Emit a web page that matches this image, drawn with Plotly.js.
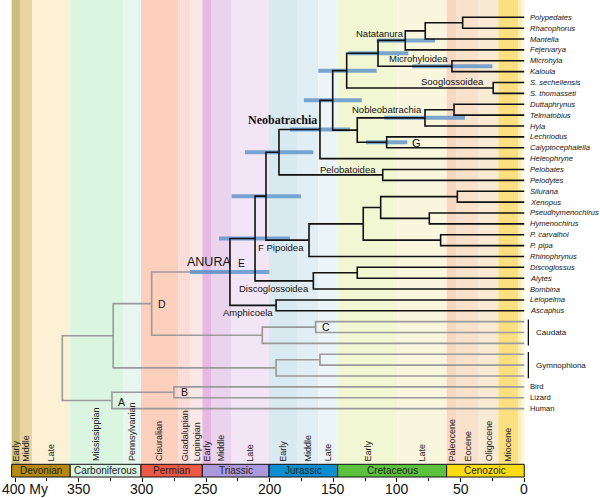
<!DOCTYPE html>
<html><head><meta charset="utf-8">
<script src="https://cdn.plot.ly/plotly-3.0.1.min.js"></script>
<style>html,body{margin:0;padding:0;background:#fff}#chart{width:600px;height:498px}</style>
</head><body><div id="chart"></div>
<script>
// ---------- DATA ----------
const leafNames = ['Polypedates','Rhacophorus','Mantella','Fejervarya','Microhyla','Kaloula',
  'S. sechellensis','S. thomasseti','Duttaphrynus','Telmatobius','Hyla','Lechriodus',
  'Calyptocephalella','Heleophryne','Pelobates','Pelodytes','Silurana','Xenopus',
  'Pseudhymenochirus','Hymenochirus','P. carvalhoi','P. pipa','Rhinophrynus','Discoglossus',
  'Alytes','Bombina','Leiopelma','Ascaphus',
  'Caudata 1','Caudata 2','Caudata 3','Gymnophiona 1','Gymnophiona 2','Gymnophiona 3',
  'Bird','Lizard','Human'];
const uprightLeaves = ['Bird','Lizard','Human'];
const groupNames = ['Caudata','Gymnophiona'];
const groupLeaves = [['Caudata 1','Caudata 2','Caudata 3'],['Gymnophiona 1','Gymnophiona 2','Gymnophiona 3']];

// internal nodes (children before parents), ages in My
const nodeNames = ['PR','PRM','Nat','Mic','Ranoidea','Soog','RanSoog','DT','DTH','G','Noble','N150','Neo',
  'Pelob','NeoPel','SX','PH','Xen','Pipa','Pipidae','Pipoidea','N203','DA','Disco','N211','Amph','Anura',
  'Cau1','Cau','Gym1','Gym','D','Liss','B','A','Root'];
const nodeAges = [48.4,77.8,93.5,56.8,114.9,24.4,139.5,55.2,78.0,108.1,131.2,150.5,160.5,
  111.2,192.7,52.6,74.6,112.8,65.7,126.5,169.1,202.9,131.2,165.7,211.5,195.0,231.2,
  163.9,205.8,160.5,195.0,292.7,322.9,275.2,323.9,362.9];
const nodeKids = [
  ['Polypedates','Rhacophorus'],['PR','Mantella'],['PRM','Fejervarya'],['Microhyla','Kaloula'],
  ['Nat','Mic'],['S. sechellensis','S. thomasseti'],['Ranoidea','Soog'],['Duttaphrynus','Telmatobius'],
  ['DT','Hyla'],['Lechriodus','Calyptocephalella'],['DTH','G'],['RanSoog','Noble'],['N150','Heleophryne'],
  ['Pelobates','Pelodytes'],['Neo','Pelob'],['Silurana','Xenopus'],['Pseudhymenochirus','Hymenochirus'],
  ['SX','PH'],['P. carvalhoi','P. pipa'],['Xen','Pipa'],['Pipidae','Rhinophrynus'],['NeoPel','Pipoidea'],
  ['Discoglossus','Alytes'],['DA','Bombina'],['N203','Disco'],['Leiopelma','Ascaphus'],['N211','Amph'],
  ['Caudata 1','Caudata 2'],['Cau1','Caudata 3'],['Gymnophiona 1','Gymnophiona 2'],['Gym1','Gymnophiona 3'],
  ['Anura','Cau'],['D','Gym'],['Bird','Lizard'],['B','Human'],['Liss','A']];

// divergence-time confidence intervals (My)
const ciNodes = ['Nat','Ranoidea','Mic','RanSoog','N150','DTH','Neo','G','NeoPel','N203','N211','Anura'];
const ciOld   = [116.0,138.3,88.0,161.8,173.1,110.0,184.1,124.4,219.4,229.9,239.8,262.6];
const ciYoung = [70.2,91.1,25.1,116.0,127.7,46.6,137.0,91.9,165.7,175.4,184.1,200.3];

// geologic time scale (My)
const stageNames = ['Early','Middle','Late','Mississippian','Pennsylvanian','Cisuralian','Guadalupian','Lopingian',
  'Early','Middle','Late','Early','Middle','Late','Early','Late','Paleocene','Eocene','Oligocene','Miocene','',''];
const stageOld   = [402.7,396.2,386.7,356.7,315.0,301.1,271.8,262.1,252.9,246.1,229.9,200.5,178.6,161.8,146.6,99.5,61.0,53.1,35.8,20.4,4.7,2.6];
const stageYoung = [396.2,386.7,356.7,315.0,301.1,271.8,262.1,252.9,246.1,229.9,200.5,178.6,161.8,146.6,99.5,61.0,53.1,35.8,20.4,4.7,2.6,0];
const stageColors = ['#CBBE7D','#E8D4A0','#FCF1D5','#DAF6E1','#E8F6EF','#FDD0BD','#FDDCD8','#FBE8E6',
  '#E5B9E2','#EAD3EC','#F1E5F6','#D8E9F0','#E1EEF3','#EBF4F6','#F1F7D2','#F8F7DD',
  '#F8D8C2','#F9E2CB','#F9EAD3','#FCE07F','#FDEEB0','#FEF5D5'];
const periodNames = ['Devonian','Carboniferous','Permian','Triassic','Jurassic','Cretaceous','Cenozoic'];
const periodOld   = [402.7,356.7,301.1,252.9,200.5,146.6,61.0];
const periodYoung = [356.7,301.1,252.9,200.5,146.6,61.0,0];
const periodColors = ['#B58A0E','#D8F4E3','#EF5844','#AB98DD','#0C8ED0','#5CC13C','#FDDC14'];

const tickVals = [400,350,300,250,200,150,100,50,0];
const tickText = ['400 My','350','300','250','200','150','100','50','0'];
const minorTicks = [375,325,275,225,175,125,75,25];

// ---------- BUILD ----------
const pos = {};
leafNames.forEach((n,i)=>{ pos[n] = {x:0, y:i}; });
const kidsOf = {};
nodeNames.forEach((n,k)=>{
  kidsOf[n] = nodeKids[k];
  const ys = nodeKids[k].map(c=>pos[c].y);
  pos[n] = {x:nodeAges[k], y:(Math.min(...ys)+Math.max(...ys))/2};
});
const anura = new Set();
(function mark(n){ anura.add(n); (kidsOf[n]||[]).forEach(mark); })('Anura');

const gx=[],gy=[],bx=[],by=[],cx=[],cy=[];
nodeNames.forEach(n=>{
  const ks = kidsOf[n].slice().sort((a,b)=>pos[a].y-pos[b].y);
  const a = pos[ks[0]], b = pos[ks[ks.length-1]], p = pos[n];
  const X = anura.has(n)?bx:gx, Y = anura.has(n)?by:gy;
  X.push(a.x,p.x,p.x,b.x,null); Y.push(a.y,a.y,b.y,b.y,null);
  ks.slice(1,-1).forEach(k=>{ X.push(p.x,pos[k].x,null); Y.push(pos[k].y,pos[k].y,null); });
});
ciNodes.forEach((n,i)=>{ cx.push(ciOld[i],ciYoung[i],null); cy.push(pos[n].y,pos[n].y,null); });

const traces = [
  {x:gx,y:gy,mode:'lines',line:{color:'#9a9a9a',width:1.6},hoverinfo:'skip',showlegend:false},
  {x:cx,y:cy,mode:'lines',line:{color:'rgba(90,145,200,0.8)',width:4},hoverinfo:'skip',showlegend:false},
  {x:bx,y:by,mode:'lines',line:{color:'#111',width:1.6},hoverinfo:'skip',showlegend:false}
];

const BAR = 12.7/477; // paper height of period bar
const shapes = [], annotations = [];
const SANS = 'Liberation Sans, Arial, sans-serif';
stageNames.forEach((s,i)=>{
  shapes.push({type:'rect',xref:'x',yref:'paper',x0:stageOld[i],x1:stageYoung[i],y0:BAR,y1:1,
    fillcolor:stageColors[i],line:{width:0},layer:'below'});
  if (s) annotations.push({text:s,xref:'x',yref:'paper',x:(stageOld[i]+stageYoung[i])/2,y:BAR+0.002,
    xanchor:'center',yanchor:'bottom',textangle:-90,showarrow:false,font:{family:SANS,size:9,color:'#222'}});
});
periodNames.forEach((s,i)=>{
  shapes.push({type:'rect',xref:'x',yref:'paper',x0:periodOld[i],x1:periodYoung[i],y0:0,y1:BAR,
    fillcolor:periodColors[i],line:{width:1,color:'#111'},layer:'above'});
  annotations.push({text:s,xref:'x',yref:'paper',x:(periodOld[i]+periodYoung[i])/2,y:BAR/2,
    xanchor:'center',yanchor:'middle',showarrow:false,font:{family:SANS,size:10,color:'#222'}});
});

// axis numbers (placed at the tick values of the x axis)
tickVals.forEach((v,i)=>{
  const first = i===0;
  annotations.push({text:tickText[i],xref:'x',yref:'paper',x:v,y:-0.0258,
    xanchor:first?'left':'center',xshift:first?-15:0,yanchor:'middle',showarrow:false,
    font:{family:SANS,size:14,color:'#111'}});
});

// leaf labels
const grouped = new Set([].concat(...groupLeaves));
leafNames.forEach((n,i)=>{
  if (grouped.has(n)) return;
  const up = uprightLeaves.includes(n);
  annotations.push({text: up?n:'<i>'+n+'</i>', xref:'x',yref:'y',x:-3.1,y:i,xanchor:'left',yanchor:'middle',
    showarrow:false,font:{family:SANS,size:7.6,color:'#111'}});
});
groupNames.forEach((g,k)=>{
  const ys = groupLeaves[k].map(l=>pos[l].y);
  const y0 = Math.min(...ys), y1 = Math.max(...ys);
  shapes.push({type:'line',xref:'x',yref:'y',x0:-3.2,x1:-3.2,y0:y0-0.2,y1:y1+0.2,line:{color:'#111',width:1.3}});
  annotations.push({text:g,xref:'x',yref:'y',x:-8.0,y:(y0+y1)/2,xanchor:'left',yanchor:'middle',
    showarrow:false,font:{family:SANS,size:8,color:'#111'}});
});

// clade labels
const clades = [
  ['Natatanura',133.5,1.47,9.5],['Microhyloidea',107.6,3.77,9.5],['Sooglossoidea',82.5,5.92,9.5],
  ['Nobleobatrachia',136.9,8.44,9.5],['G',89.8,11.56,11],['Pelobatoidea',161.8,13.96,9.5],
  ['F Pipoidea',210.5,21.2,9.5],['ANURA',266.3,22.48,12.5],['E',226.8,22.63,10.5],
  ['Discoglossoidea',225.8,24.93,9.5],['Amphicoela',238.0,27.18,9.5],['D',289.0,26.38,10.5],
  ['C',160.2,28.52,10.5],['B',271.6,34.5,10.5],['A',320.5,35.36,10.5]];
clades.forEach(c=>annotations.push({text:c[0],xref:'x',yref:'y',x:c[1],y:c[2],xanchor:'left',yanchor:'middle',
  showarrow:false,font:{family:SANS,size:c[3],color:'#111'}}));
annotations.push({text:'<b>Neobatrachia</b>',xref:'x',yref:'y',x:218.5,y:9.45,xanchor:'left',yanchor:'middle',
  showarrow:false,font:{family:'Liberation Serif, Times New Roman, serif',size:12,color:'#111'}});

const layout = {
  width:600,height:498,margin:{l:11,r:0,t:0,b:21},
  paper_bgcolor:'#fff',plot_bgcolor:'#fff',showlegend:false,
  xaxis:{range:[403.2,-59.48],showgrid:false,zeroline:false,showline:false,showticklabels:false,
    tickmode:'array',tickvals:tickVals,ticks:'outside',ticklen:4,tickwidth:1,tickcolor:'#111',
    minor:{tickmode:'array',tickvals:minorTicks,ticks:'outside',ticklen:3,tickwidth:1,tickcolor:'#111',showgrid:false}},
  yaxis:{range:[42.29,-1.592],visible:false,showgrid:false,zeroline:false},
  shapes:shapes,annotations:annotations
};
Plotly.newPlot('chart',traces,layout,{staticPlot:true,displayModeBar:false});
</script>
</body></html>
